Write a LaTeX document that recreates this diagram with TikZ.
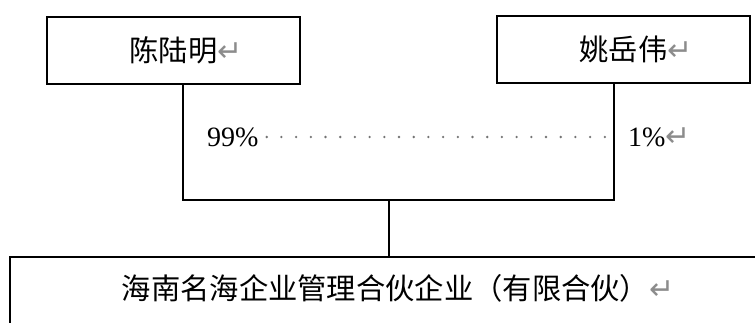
\documentclass[tikz,border=0pt]{standalone}
\usepackage{fontspec}
\setmainfont{Liberation Serif}
\newfontfamily\cjk{Noto Sans CJK SC}
\newfontfamily\dvs{DejaVu Sans}
\begin{document}
\begin{tikzpicture}[x=1pt,y=-1pt,
  box/.style={draw=black,line width=1.6pt,inner sep=0pt},
  lbl/.style={inner sep=0pt,font=\cjk\fontsize{29.3}{32}\selectfont},
  num/.style={inner sep=0pt,font=\fontsize{28}{30}\selectfont},
  ret/.style={inner sep=0pt,text=black!45,font=\dvs\fontsize{30}{32}\selectfont},
  conn/.style={line width=1.6pt,draw=black},
  dots/.style={draw=black!55,line width=2.6pt,line cap=round,dash pattern=on 0pt off 14.7pt}]
\useasboundingbox (0,0) rectangle (755,322);
\fill[white] (0,0) rectangle (755,322);
\clip (0,0) rectangle (755,322);
\node[box,minimum width=253,minimum height=67] (lbox) at (173.5,50.5) {};
\node[box,minimum width=253,minimum height=67] (rbox) at (623.5,49.5) {};
\node[box,minimum width=752,minimum height=70] (bbox) at (386,292) {};
\node[lbl] (lt) at (lbox.center) {陈陆明};
\node[ret,anchor=base west] (lr) at (lt.base east) {↵};
\node[lbl] (rt) at (rbox.center) {姚岳伟};
\node[ret,anchor=base west] (rr) at (rt.base east) {↵};
\node[lbl] (bt) at (385.5,288) {海南名海企业管理合伙企业（有限合伙）};
\node[ret,anchor=base west] (br) at (bt.base east) {↵};
\node[num,anchor=west] (p99) at (207,137) {99\%};
\node[num,anchor=west] (p1) at (628,137) {1\%};
\node[ret,anchor=base west] (p1r) at (p1.base east) {↵};
\coordinate (jl) at (183,200);
\coordinate (jr) at (614,200);
\coordinate (jm) at (389,200);
\draw[conn] (lbox.south -| jl) -- (jl) -- (jr) -- (rbox.south -| jr);
\draw[conn] (jm) -- (bbox.north -| jm);
\draw[dots] ([xshift=8pt]p99.east) -- ([xshift=-22pt]p1.west);
\end{tikzpicture}
\end{document}
